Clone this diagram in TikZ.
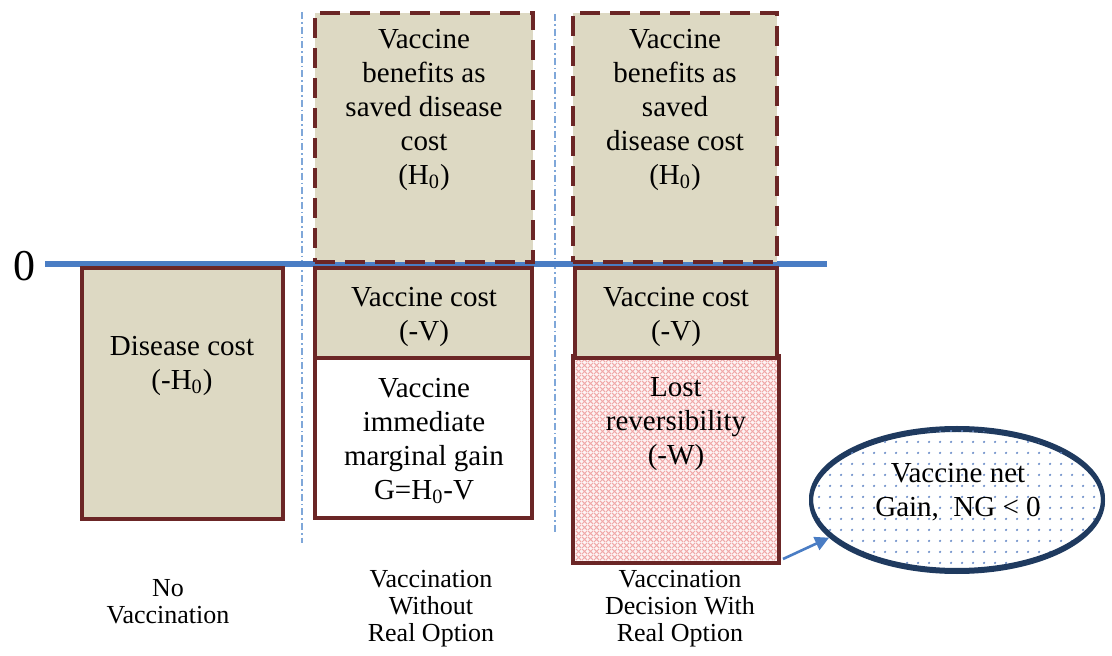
\documentclass[tikz,border=0pt]{standalone}
\usepackage{fontspec}
\setmainfont{Liberation Serif}
\usetikzlibrary{shapes.geometric,patterns.meta,arrows.meta}

\definecolor{tanfill}{HTML}{DDD9C3}
\definecolor{brd}{HTML}{6B2626}
\definecolor{zblue}{HTML}{4A7DC4}
\definecolor{ddblue}{HTML}{7FA7D9}
\definecolor{navy}{HTML}{1F3A5F}
\definecolor{hatchc}{HTML}{F0A8A8}
\definecolor{hatchbg}{HTML}{FDF3F3}
\definecolor{dotc}{HTML}{6A8CC8}

\tikzdeclarepattern{
  name=sparsedots, type=uncolored,
  bounding box={(0pt,0pt) and (5.5pt,5.5pt)},
  tile size={(5.5pt,5.5pt)},
  code={\fill (2.75pt,2.75pt) circle (0.65pt);}
}
\tikzdeclarepattern{
  name=diamondhatch, type=uncolored,
  bounding box={(0pt,0pt) and (3pt,3pt)},
  tile size={(3pt,3pt)},
  code={\draw[line width=0.55pt] (0pt,0pt)--(3pt,3pt) (0pt,3pt)--(3pt,0pt);}
}

\begin{document}
\begin{tikzpicture}[x=0.5pt,y=-0.5pt,
  box/.style={draw=brd,line width=2pt,fill=tanfill,inner sep=0pt},
  dbox/.style={box,dash pattern=on 10pt off 5pt},
  txt/.style={align=center,font=\fontsize{14.5}{17}\selectfont,inner sep=0pt},
  lbl/.style={align=center,font=\fontsize{13}{13.5}\selectfont,inner sep=0pt},
  sepline/.style={draw=ddblue,line width=1.2pt,dash pattern=on 3.5pt off 1.5pt on 0.8pt off 1.5pt},
]
\useasboundingbox (0,0) rectangle (1112,656);

% separators
\coordinate (s1t) at (302,12);
\coordinate (s1b) at (302,543);
\coordinate (s2t) at (555,14);
\coordinate (s2b) at (555,532);
\draw[sepline] (s1t) -- (s1b);
\draw[sepline] (s2t) -- (s2b);

% zero line
\coordinate (z0) at (45,264);
\coordinate (z1) at (827,264);
\draw[zblue,line width=3pt] (z0) -- (z1);
\node[font=\fontsize{22}{24}\selectfont,inner sep=0pt] (zero) at (24,266) {0};

% boxes
\node[box,minimum width=100.5pt,minimum height=125.5pt] (dis) at (182.5,393.5) {};
\node[dbox,minimum width=109pt,minimum height=124.5pt] (ben1) at (424,137.5) {};
\node[dbox,minimum width=102pt,minimum height=124.5pt] (ben2) at (675,137.5) {};
\node[box,minimum width=108.5pt,minimum height=45pt] (vc1) at (423.5,313) {};
\node[box,fill=white,minimum width=108.5pt,minimum height=80pt] (gain) at (423.5,438) {};
\node[box,draw=none,fill=hatchbg,minimum width=101pt,minimum height=101.5pt,
  postaction={pattern=diamondhatch,pattern color=hatchc}] (lost) at (676,459.5) {};
\draw[brd,line width=2pt] (lost.north west) rectangle (lost.south east);
\node[box,minimum width=101pt,minimum height=45pt] (vc2) at (676,313) {};

% ellipse
\node[ellipse,draw=navy,line width=2pt,fill=white,inner sep=0pt,
  minimum width=146pt,minimum height=71pt,
  postaction={pattern=sparsedots,pattern color=dotc}] (ng) at (957,501) {};
\draw[navy,line width=2pt] (ng.north) arc[start angle=90,end angle=450,x radius=73pt,y radius=35.5pt];

% arrow
\draw[zblue,line width=1.3pt,-{Triangle[length=7pt,width=7pt]}]
  ([xshift=2pt,yshift=2pt]lost.south east) -- (ng.196);

% texts
\node[txt] (t1) at (182,366) {Disease cost\\(-H\textsubscript{0})};
\node[txt] (t2) at (424,110) {Vaccine\\benefits as\\saved disease\\cost\\(H\textsubscript{0})};
\node[txt] (t3) at (675,110) {Vaccine\\benefits as\\saved\\disease cost\\(H\textsubscript{0})};
\node[txt] (t4) at (424,317) {Vaccine cost\\(-V)};
\node[txt] (t5) at (676,317) {Vaccine cost\\(-V)};
\node[txt] (t6) at (424,441) {Vaccine\\immediate\\marginal gain\\G=H\textsubscript{0}-V};
\node[txt] (t7) at (676,424) {Lost\\reversibility\\(-W)};
\node[txt] (t8) at (958,492) {Vaccine net\\Gain,~ NG < 0};

% labels
\node[lbl] (l1) at (168,602) {No\\Vaccination};
\node[lbl] (l2) at (431,609) {Vaccination\\Without\\Real Option};
\node[lbl] (l3) at (680,609) {Vaccination\\Decision With\\Real Option};
\end{tikzpicture}
\end{document}
